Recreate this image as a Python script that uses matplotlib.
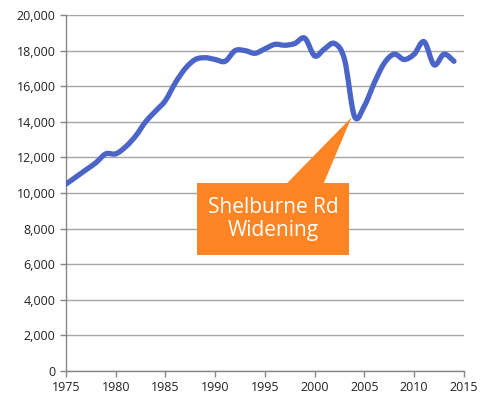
import matplotlib
matplotlib.use('Agg')
import matplotlib.pyplot as plt
import numpy as np
from matplotlib.path import Path
from matplotlib.patches import PathPatch, Polygon, Rectangle
from matplotlib.ticker import FuncFormatter

YEARS = list(range(1975, 2015))
TRAFFIC = [10500, 10900, 11300, 11700, 12200, 12200, 12600, 13200, 14000, 14600,
           15200, 16200, 17000, 17500, 17600, 17500, 17400, 18000, 18000, 17850,
           18100, 18350, 18300, 18400, 18700, 17700, 18100, 18400, 17500, 14300,
           14900, 16200, 17300, 17800, 17500, 17800, 18500, 17200, 17800, 17400]

CALLOUT_TEXT = 'Shelburne Rd\nWidening'
CALLOUT_YEAR = 2004

LINE_COLOR = '#4A64C8'
CALLOUT_COLOR = '#FF8424'
GRID_COLOR = '#A6A6A6'
AXIS_COLOR = '#868686'

plt.rcParams['font.family'] = ['Open Sans', 'DejaVu Sans']


def smooth_path(xs, ys):
    # cubic bezier through the points, like Excel's "smoothed line"
    pts = np.column_stack([xs, ys]).astype(float)
    n = len(pts)
    verts = [pts[0]]
    codes = [Path.MOVETO]
    for i in range(n - 1):
        p0 = pts[i - 1] if i > 0 else pts[i]
        p1 = pts[i]
        p2 = pts[i + 1]
        p3 = pts[i + 2] if i + 2 < n else pts[i + 1]
        c1 = p1 + (p2 - p0) / 6
        c2 = p2 - (p3 - p1) / 6
        verts += [c1, c2, p2]
        codes += [Path.CURVE4] * 3
    return Path(verts, codes)


fig = plt.figure(figsize=(4.8, 4.0), dpi=100)
ax = fig.add_axes([0.1375, 0.0725, 0.829, 0.89])

ax.set_xlim(1975, 2015)
ax.set_ylim(0, 20000)
ax.set_xticks(range(1975, 2016, 5))
ax.set_yticks(range(0, 20001, 2000))
ax.yaxis.set_major_formatter(FuncFormatter(lambda v, p: f'{int(v):,}'))

ax.grid(axis='y', color=GRID_COLOR, linewidth=1.0)
ax.set_axisbelow(True)
for side in ('top', 'right'):
    ax.spines[side].set_visible(False)
for side in ('left', 'bottom'):
    ax.spines[side].set_color(AXIS_COLOR)
    ax.spines[side].set_linewidth(1.0)
ax.tick_params(direction='out', length=4, width=1.0, color=AXIS_COLOR,
               labelsize=9, labelcolor='#222222')

ax.add_patch(PathPatch(smooth_path(YEARS, TRAFFIC), facecolor='none',
                       edgecolor=LINE_COLOR, linewidth=3.8, capstyle='round',
                       joinstyle='round', zorder=3))

# callout box with pointer to the 2004 dip
tip = (CALLOUT_YEAR - 0.3, TRAFFIC[YEARS.index(CALLOUT_YEAR)] - 50)
box_x0, box_x1 = 1988.2, 2003.4
box_y0, box_y1 = 6500, 10550
ax.add_patch(Rectangle((box_x0, box_y0), box_x1 - box_x0, box_y1 - box_y0,
                       facecolor=CALLOUT_COLOR, edgecolor='none', zorder=4))
ax.add_patch(Polygon([(1997.2, box_y1 - 10), tip, (2000.9, box_y1 - 10)],
                     closed=True, facecolor=CALLOUT_COLOR, edgecolor='none', zorder=4))
ax.text((box_x0 + box_x1) / 2, (box_y0 + box_y1) / 2, CALLOUT_TEXT,
        ha='center', va='center', color='white', fontsize=15,
        linespacing=1.1, zorder=5)

fig.savefig('out.png', dpi=100)
